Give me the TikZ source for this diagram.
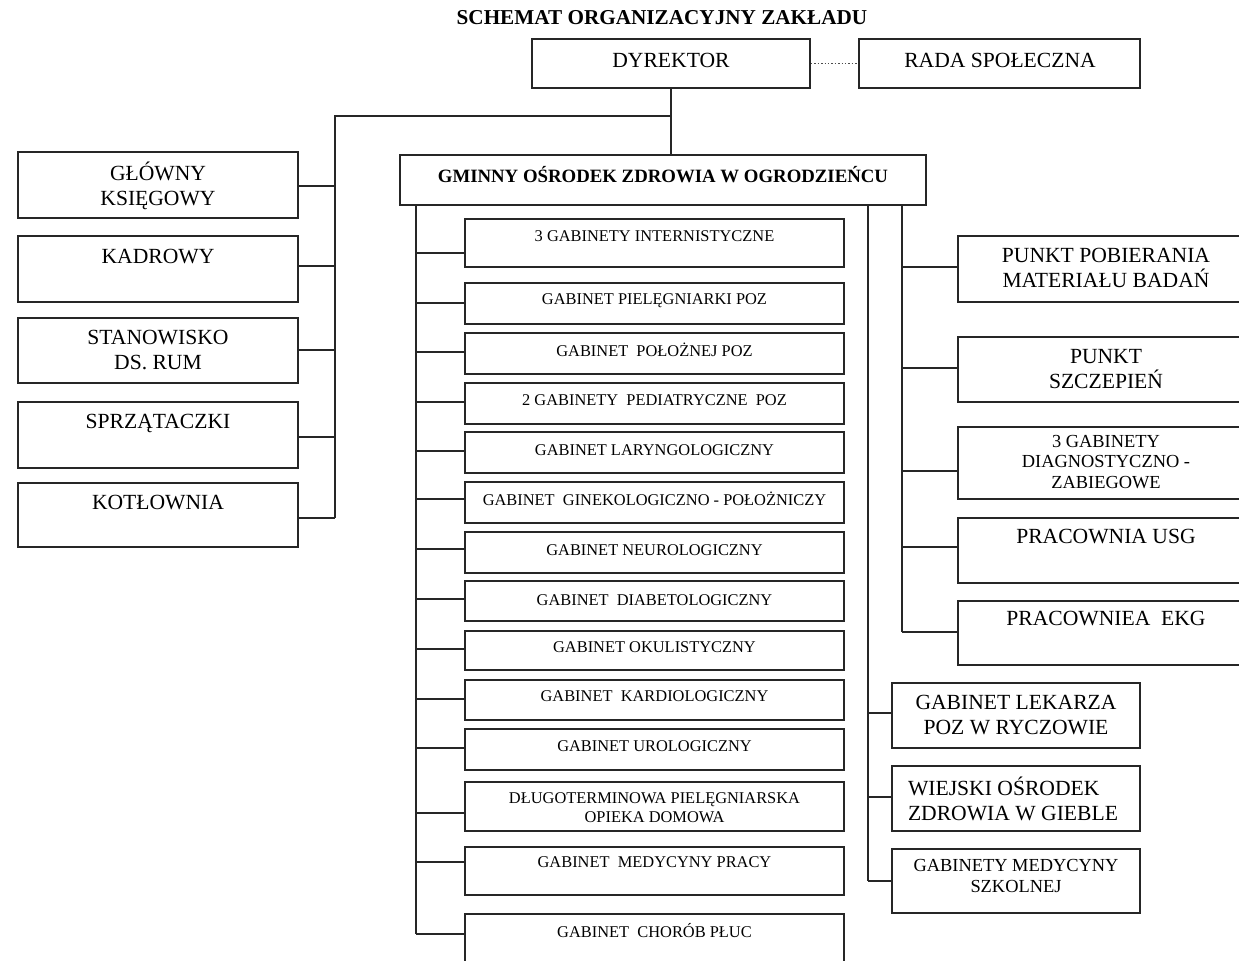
\documentclass[tikz,border=0pt]{standalone}
\usepackage{fontspec}
\setmainfont{Liberation Serif}
\usetikzlibrary{fit}
\tikzset{
  box/.style={draw=black!85, line width=0.9pt, inner sep=0pt},
  conn/.style={draw=black!85, line width=0.9pt},
  ttl/.style={font=\fontsize{10.6}{12}\selectfont\bfseries, inner sep=0pt},
  head/.style={font=\fontsize{9.4}{11}\selectfont\bfseries, inner sep=0pt},
  big/.style={font=\fontsize{10.8}{12.8}\selectfont, align=center, inner sep=0pt},
  bigl/.style={font=\fontsize{10.8}{12.8}\selectfont, align=left, inner sep=0pt},
  mid/.style={font=\fontsize{9.2}{10.2}\selectfont, align=center, inner sep=0pt},
  small/.style={font=\fontsize{8.2}{9.5}\selectfont, align=center, inner sep=0pt},
}
% middle column box: name, top, bottom, text y, text, connector y
\newcommand\gbox[6]{%
  \node[box, fit={(465,#2) (844,#3)}] (#1) {};
  \node[small] (#1t) at (654.5,#4) {#5};
  \coordinate (#1c) at (416,#6);
  \draw[conn] (#1c) -- (#1.west |- #1c);
}
% left column box
\newcommand\lbox[6]{%
  \node[box, fit={(18,#2) (298,#3)}] (#1) {};
  \node[big] (#1t) at (158,#4) {#5};
  \coordinate (#1c) at (335,#6);
  \draw[conn] (#1.east |- #1c) -- (#1c);
}
% right column box
\newcommand\rbox[7]{%
  \node[box, fit={(958,#2) (1262,#3)}] (#1) {};
  \node[#7] (#1t) at (1106,#4) {#5};
  \coordinate (#1c) at (902,#6);
  \draw[conn] (#1c) -- (#1.west |- #1c);
}
% lower right boxes
\newcommand\qbox[8]{%
  \node[box, fit={(892,#2) (1140,#3)}] (#1) {};
  \node[#7] (#1t) at (#8,#4) {#5};
  \coordinate (#1c) at (868,#6);
  \draw[conn] (#1c) -- (#1.west |- #1c);
}
\begin{document}
\begin{tikzpicture}[x=0.5pt, y=-0.5pt]
\useasboundingbox (0,0) rectangle (1239,961);
\clip (0,0) rectangle (1239,961);

\node[ttl] (title) at (662,18) {SCHEMAT ORGANIZACYJNY ZAKŁADU};

\node[box, fit={(532,39) (810,88)}] (dyr) {};
\node[big] (dyrt) at (671,60) {DYREKTOR};
\node[box, fit={(859,39) (1140,88)}] (rada) {};
\node[big] (radat) at (1000,60) {RADA SPOŁECZNA};
\draw[black!70, line width=0.7pt, densely dotted] (dyr.east) -- (rada.west);

\node[box, fit={(400,155) (926,205)}] (goz) {};
\node[head] (gozt) at (663,175) {GMINNY OŚRODEK ZDROWIA W OGRODZIEŃCU};

% left column
\lbox{l1}{152}{218}{186}{GŁÓWNY\\KSIĘGOWY}{186}
\lbox{l2}{236}{302}{257}{KADROWY}{266}
\lbox{l3}{318}{383}{350}{STANOWISKO\\DS. RUM}{350}
\lbox{l4}{402}{468}{423}{SPRZĄTACZKI}{437}
\lbox{l5}{483}{547}{503}{KOTŁOWNIA}{518}

\coordinate (jt) at (671,116);
\coordinate (lt) at (335,116);
\draw[conn] (dyr.south) -- (dyr.south |- goz.north);
\draw[conn] (jt) -- (lt) -- (l5c);

% middle column
\gbox{m1}{219}{267}{236}{3 GABINETY INTERNISTYCZNE}{253}
\gbox{m2}{283}{324}{301}{GABINET PIELĘGNIARKI POZ}{303}
\gbox{m3}{333}{374}{350}{GABINET~ POŁOŻNEJ POZ}{352}
\gbox{m4}{383}{424}{400}{2 GABINETY~ PEDIATRYCZNE~ POZ}{402}
\gbox{m5}{432}{473}{450}{GABINET LARYNGOLOGICZNY}{451}
\gbox{m6}{482}{523}{499}{GABINET~ GINEKOLOGICZNO - POŁOŻNICZY}{499}
\gbox{m7}{532}{573}{550}{GABINET NEUROLOGICZNY}{549}
\gbox{m8}{581}{621}{600}{GABINET~ DIABETOLOGICZNY}{599}
\gbox{m9}{631}{670}{647}{GABINET OKULISTYCZNY}{649}
\gbox{m10}{680}{720}{696}{GABINET~ KARDIOLOGICZNY}{699}
\gbox{m11}{729}{770}{746}{GABINET UROLOGICZNY}{748}
\gbox{m12}{782}{831}{808}{DŁUGOTERMINOWA PIELĘGNIARSKA\\OPIEKA DOMOWA}{813}
\gbox{m13}{847}{895}{862}{GABINET~ MEDYCYNY PRACY}{862}
\gbox{m14}{914}{990}{931}{GABINET~ CHORÓB PŁUC}{934}
\draw[conn] (goz.south -| m14c) -- (m14c);

% right column
\rbox{r1}{236}{302}{268}{PUNKT POBIERANIA\\MATERIAŁU BADAŃ}{267}{big}
\rbox{r2}{337}{402}{369}{PUNKT\\SZCZEPIEŃ}{368}{big}
\rbox{r3}{427}{499}{462}{3 GABINETY\\DIAGNOSTYCZNO -\\ZABIEGOWE}{471}{mid}
\rbox{r4}{518}{583}{537}{PRACOWNIA USG}{547}{big}
\rbox{r5}{601}{665}{619}{PRACOWNIEA~ EKG}{632}{big}
\draw[conn] (goz.south -| r5c) -- (r5c);

% lower right
\qbox{q1}{683}{748}{715}{GABINET LEKARZA\\POZ W RYCZOWIE}{713}{big}{1016}
\qbox{q2}{766}{831}{799}{WIEJSKI OŚRODEK\\ZDROWIA W GIEBLE}{797}{bigl}{1013}
\qbox{q3}{849}{913}{876}{GABINETY MEDYCYNY\\SZKOLNEJ}{881}{mid}{1016}
\draw[conn] (goz.south -| q3c) -- (q3c);
\end{tikzpicture}
\end{document}
